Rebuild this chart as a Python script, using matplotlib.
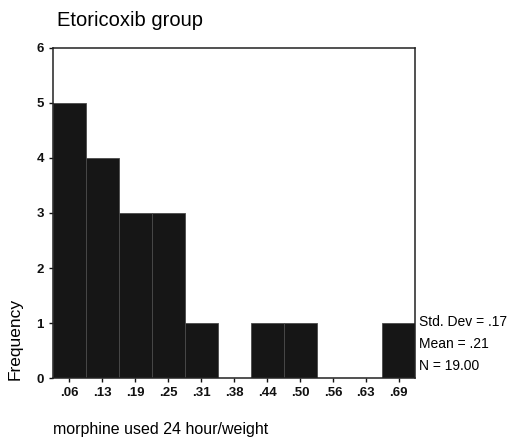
import numpy as np
import matplotlib.pyplot as plt

plt.rcParams['font.family'] = ['Liberation Sans', 'DejaVu Sans']

# histogram bins (SPSS style, width 1/16)
bin_centers = [0.0625, 0.125, 0.1875, 0.25, 0.3125, 0.375, 0.4375, 0.5, 0.5625, 0.625, 0.6875]
tick_labels = ['.06', '.13', '.19', '.25', '.31', '.38', '.44', '.50', '.56', '.63', '.69']
counts = [5, 4, 3, 3, 1, 0, 1, 1, 0, 0, 1]
stats_lines = ['Std. Dev = .17', 'Mean = .21', 'N = 19.00']
bin_w = 0.0625

fig = plt.figure(figsize=(5.09, 4.46), dpi=100)
ax = fig.add_axes([0.104, 0.152, 0.712, 0.741])

ax.bar(bin_centers, counts, width=bin_w, color='#161616', edgecolor='#4a4a4a', linewidth=0.6)

ax.set_xlim(bin_centers[0] - bin_w / 2, bin_centers[-1] + bin_w / 2)
ax.set_ylim(0, 6)
ax.set_xticks(bin_centers)
ax.set_xticklabels(tick_labels)
ax.set_yticks(range(7))
ax.tick_params(axis='both', direction='out', length=3, width=1, labelsize=9.5, colors='#111')
for lbl in ax.get_xticklabels() + ax.get_yticklabels():
    lbl.set_fontweight('semibold')
for s in ax.spines.values():
    s.set_linewidth(1.1)
    s.set_color('#222')

fig.text(0.112, 0.955, 'Etoricoxib group', fontsize=14.5, va='center', ha='left')
fig.text(0.03, 0.24, 'Frequency', fontsize=12.5, rotation=90, va='center', ha='center')
fig.text(0.104, 0.036, 'morphine used 24 hour/weight', fontsize=11.5, va='center', ha='left')

for i, line in enumerate(stats_lines):
    fig.text(0.823, 0.278 - i * 0.049, line, fontsize=10, va='center', ha='left')

fig.savefig('out.png', dpi=100, facecolor='white')
